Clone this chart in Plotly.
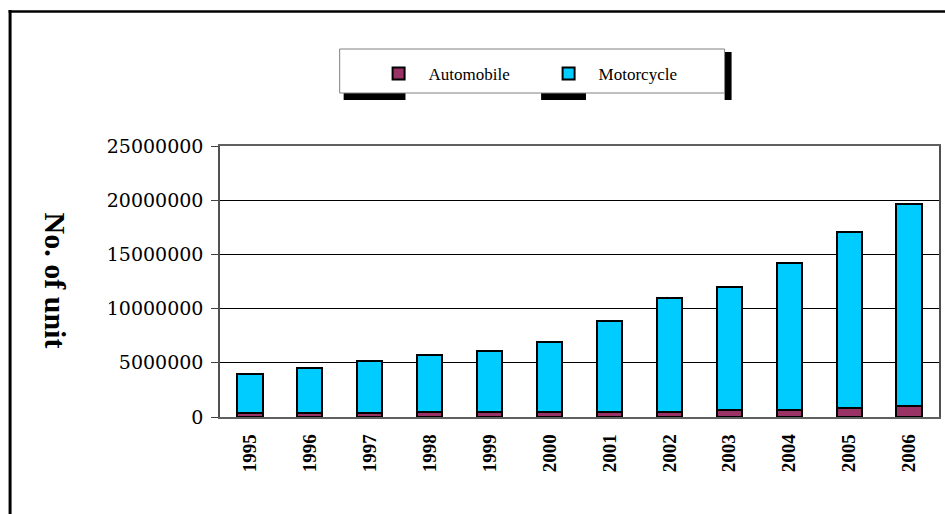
import plotly.graph_objects as go

# Annual unit counts
years = ["1995", "1996", "1997", "1998", "1999", "2000",
         "2001", "2002", "2003", "2004", "2005", "2006"]
automobile = [350000, 350000, 350000, 500000, 500000, 500000,
              500000, 500000, 650000, 650000, 800000, 1000000]
motorcycle = [3650000, 4150000, 4850000, 5200000, 5550000, 6400000,
              8350000, 10450000, 11300000, 13600000, 16250000, 18650000]

y_ticks = [0, 5000000, 10000000, 15000000, 20000000, 25000000]

W, H = 945, 514
L, R, T, B = 220, 4, 146, 97
PW, PH = W - L - R, H - T - B


def px(x):
    return (x - L) / PW


def py(y):
    return (H - B - y) / PH


fig = go.Figure()
fig.add_trace(go.Bar(
    x=years, y=automobile, name="Automobile",
    marker=dict(color="#993366", line=dict(color="#000000", width=2)),
    width=0.42,
))
fig.add_trace(go.Bar(
    x=years, y=motorcycle, name="Motorcycle",
    marker=dict(color="#00CCFF", line=dict(color="#000000", width=2)),
    width=0.42,
))

shapes = []
# outer frame edges
shapes.append(dict(type="line", xref="paper", yref="paper",
                   x0=px(9.5), x1=px(9.5), y0=py(10), y1=py(530),
                   line=dict(color="#000000", width=3)))
shapes.append(dict(type="line", xref="paper", yref="paper",
                   x0=px(8), x1=px(960), y0=py(11.5), y1=py(11.5),
                   line=dict(color="#000000", width=2.5)))
# legend box with its drop shadow
for x0, x1, y0, y1 in [(344, 406, 93, 100), (542, 587, 93, 100), (726, 733, 52, 100)]:
    shapes.append(dict(type="rect", xref="paper", yref="paper",
                       x0=px(x0), x1=px(x1), y0=py(y0), y1=py(y1),
                       fillcolor="#000000", line=dict(width=0)))
shapes.append(dict(type="rect", xref="paper", yref="paper",
                   x0=px(340), x1=px(726), y0=py(49), y1=py(93),
                   fillcolor="#ffffff", line=dict(color="#808080", width=1)))

fig.update_layout(
    width=W, height=H,
    margin=dict(l=L, r=R, t=T, b=B, pad=0),
    paper_bgcolor="#ffffff", plot_bgcolor="#ffffff",
    barmode="stack",
    font=dict(family="Liberation Serif", color="#000000"),
    shapes=shapes,
    showlegend=True,
    legend=dict(
        orientation="h", x=px(369), xanchor="left", y=py(74), yanchor="middle",
        bgcolor="rgba(0,0,0,0)", borderwidth=0,
        font=dict(family="Liberation Serif", size=17, color="#000000"),
        itemwidth=50, entrywidth=105, entrywidthmode="pixels",
        traceorder="normal",
    ),
    xaxis=dict(
        type="category",
        showgrid=False, showline=True, linecolor="#606060", linewidth=1.5,
        mirror=True, ticks="", tickangle=-90,
        tickfont=dict(family="Liberation Serif", size=19, color="#000000", weight="bold"),
        ticklabelstandoff=8,
    ),
    yaxis=dict(
        range=[0, 25000000], tickvals=y_ticks, tickformat="d",
        showgrid=True, gridcolor="#000000", gridwidth=1,
        showline=True, linecolor="#505050", linewidth=1.5, mirror=True,
        ticks="outside", ticklen=7, tickcolor="#404040", tickwidth=1,
        tickfont=dict(family="DejaVu Serif", size=19, color="#000000"),
        ticklabelstandoff=4,
        zeroline=False,
    ),
    annotations=[dict(
        text="<b>No. of unit</b>", textangle=90, showarrow=False,
        xref="paper", yref="paper", x=px(56), y=py(281),
        xanchor="center", yanchor="middle",
        font=dict(family="Liberation Serif", size=30, color="#000000"),
    )],
)

fig.write_html("out.html")
